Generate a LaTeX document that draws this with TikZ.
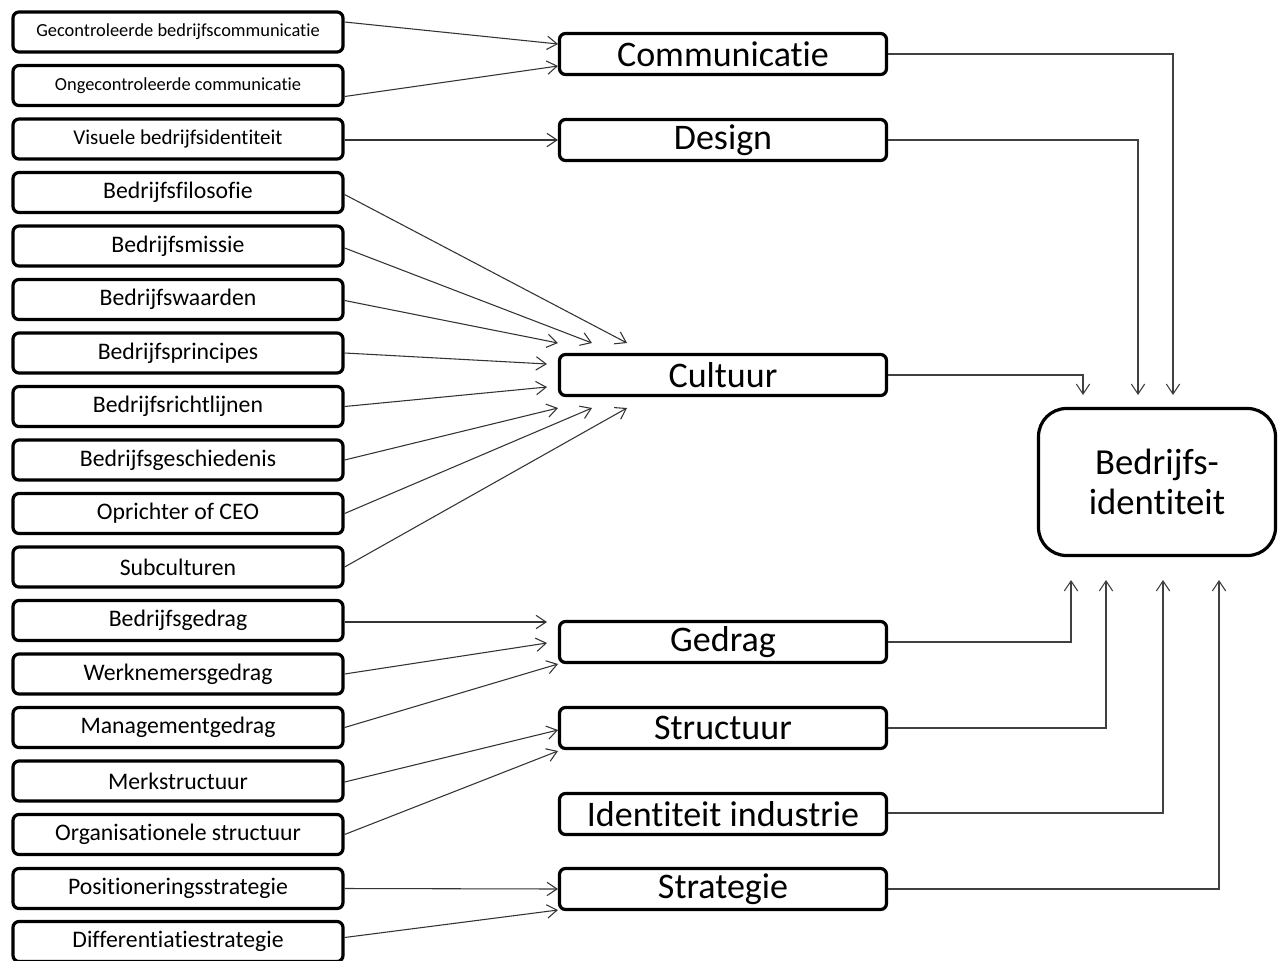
\documentclass[tikz,border=0pt]{standalone}
\usepackage{fontspec}
\setmainfont{Carlito}[Ligatures={NoCommon}]
\usetikzlibrary{arrows.meta,calc}
\begin{document}
\begin{tikzpicture}[x=0.75pt,y=-0.75pt,
  lbox/.style={draw=black,line width=2.4pt,rounded corners=4.5pt,minimum width=247.5pt,minimum height=30pt,inner sep=0pt,text=black,font=\fontsize{17.8}{20}\selectfont},
  sbox/.style={lbox,font=\fontsize{13.8}{16}\selectfont},
  mbox/.style={draw=black,line width=2.4pt,rounded corners=4.5pt,minimum width=245.25pt,minimum height=30.75pt,inner sep=0pt,text=black,font=\fontsize{27}{30}\selectfont},
  bigbox/.style={draw=black,line width=2.4pt,rounded corners=21pt,minimum width=177.75pt,minimum height=110.25pt,inner sep=0pt,align=center,text=black,font=\fontsize{27.5}{30}\selectfont},
  conn/.style={draw=black!80,line width=0.8pt,-{Straight Barb[length=7.5pt,width=10pt,line width=0.8pt]}},
  link/.style={draw=black!75,line width=0.8pt,-{Straight Barb[length=7.5pt,width=10pt,line width=0.8pt]}},
]
\useasboundingbox[fill=white] (0,0) rectangle (1283,961);

% left boxes
\node[sbox] (l1) at (178,32) {Gecontroleerde bedrijfscommunicatie};
\node[sbox] (l2) at (178,85.5) {Ongecontroleerde communicatie};
\node[lbox,font=\fontsize{15.8}{18}\selectfont] (l3) at (178,139) {Visuele bedrijfsidentiteit};
\node[lbox] (l4) at (178,192.5) {Bedrijfsfilosofie};
\node[lbox] (l5) at (178,246) {Bedrijfsmissie};
\node[lbox] (l6) at (178,299.5) {Bedrijfswaarden};
\node[lbox] (l7) at (178,353) {Bedrijfsprincipes};
\node[lbox] (l8) at (178,406.5) {Bedrijfsrichtlijnen};
\node[lbox] (l9) at (178,460) {Bedrijfsgeschiedenis};
\node[lbox] (l10) at (178,513.5) {Oprichter of CEO};
\node[lbox] (l11) at (178,567) {Subculturen};
\node[lbox] (l12) at (178,620.5) {Bedrijfsgedrag};
\node[lbox] (l13) at (178,674) {Werknemersgedrag};
\node[lbox] (l14) at (178,727.5) {Managementgedrag};
\node[lbox] (l15) at (178,781) {Merkstructuur};
\node[lbox] (l16) at (178,834.5) {Organisationele structuur};
\node[lbox] (l17) at (178,888.5) {Positioneringsstrategie};
\node[lbox] (l18) at (178,941.5) {Differentiatiestrategie};

% middle boxes
\node[mbox] (com) at (723,54) {Communicatie};
\node[mbox] (des) at (723,140) {Design};
\node[mbox] (cul) at (723,375) {Cultuur};
\node[mbox] (ged) at (723,642) {Gedrag};
\node[mbox] (str) at (723,728) {Structuur};
\node[mbox] (ind) at (723,814) {Identiteit industrie};
\node[mbox] (sta) at (723,889) {Strategie};

% main box
\node[bigbox] (bi) at (1157,482) {Bedrijfs-\\identiteit};

% free ends
\coordinate (c1) at (558,343);
\coordinate (c2) at (592,343);
\coordinate (c3) at (627,343);
\coordinate (c4) at (547,364);
\coordinate (c5) at (547,387);
\coordinate (c6) at (558,408);
\coordinate (c7) at (592,408);
\coordinate (c8) at (627,408);
\coordinate (g1) at (547,622);
\coordinate (g2) at (547,643);
\coordinate (g3) at (558,664);
\coordinate (s1) at (558,730);
\coordinate (s2) at (558,751);
\coordinate (k1) at (558,44);
\coordinate (k2) at (558,66);
\coordinate (k3) at (558,910);
\coordinate (t1) at (1173,395);
\coordinate (t2) at (1138,395);
\coordinate (t3) at (1083,395);
\coordinate (b1) at (1071,580);
\coordinate (b2) at (1106,580);
\coordinate (b3) at (1163,580);
\coordinate (b4) at (1219,580);

% left connectors
\draw[conn] ($(l1.east)+(0,-10)$) -- (k1);
\draw[conn] ($(l2.east)+(0,11)$) -- (k2);
\draw[conn] ($(l3.east)+(0,1)$) -- (des.west);
\draw[conn] ($(l4.east)+(0,2)$) -- (c3);
\draw[conn] ($(l5.east)+(0,2)$) -- (c2);
\draw[conn] ($(l6.east)+(0,1)$) -- (c1);
\draw[conn] (l7.east) -- (c4);
\draw[conn] (l8.east) -- (c5);
\draw[conn] (l9.east) -- (c6);
\draw[conn] (l10.east) -- (c7);
\draw[conn] (l11.east) -- (c8);
\draw[conn] ($(l12.east)+(0,1.5)$) -- (g1);
\draw[conn] (l13.east) -- (g2);
\draw[conn] (l14.east) -- (g3);
\draw[conn] ($(l15.east)+(0,1)$) -- (s1);
\draw[conn] (l16.east) -- (s2);
\draw[conn] (l17.east) -- (sta.west);
\draw[conn] ($(l18.east)+(0,-4)$) -- (k3);

% right connectors
\draw[link] (com.east) -| (t1);
\draw[link] (des.east) -| (t2);
\draw[link] (cul.east) -| (t3);
\draw[link] (ged.east) -| (b1);
\draw[link] (str.east) -| (b2);
\draw[link] ($(ind.east)+(0,-1)$) -| (b3);
\draw[link] (sta.east) -| (b4);
\end{tikzpicture}
\end{document}
